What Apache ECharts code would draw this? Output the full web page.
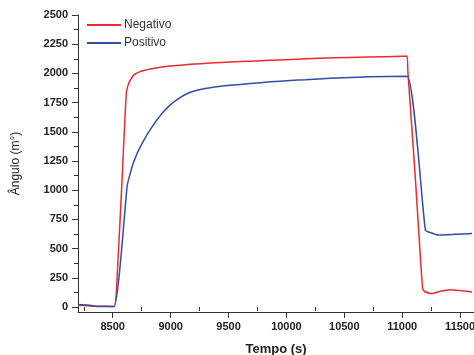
<!DOCTYPE html>
<html>
<head>
<meta charset="utf-8">
<script src="https://cdn.jsdelivr.net/npm/echarts@6/dist/echarts.min.js"></script>
<style>
  html, body { margin: 0; padding: 0; background: #fff; }
  #chart { width: 474px; height: 355px; }
</style>
</head>
<body>
<div id="chart"></div>
<script>
// Angle response over time: [time (s), angle (m°)]
const negativo = [
  [8200, 15], [8290, 10], [8360, 6], [8512, 5], [8540, 300], [8580, 1080],
  [8617, 1830], [8640, 1920], [8680, 1985], [8750, 2020], [8825, 2038],
  [8911, 2052], [8997, 2063], [9170, 2078], [9343, 2088], [9516, 2097],
  [9688, 2105], [9861, 2112], [10034, 2119], [10166, 2125], [10400, 2133],
  [10700, 2140], [11000, 2146], [11042, 2148], [11048, 2030], [11113, 1110],
  [11176, 158], [11200, 128], [11257, 115], [11330, 135], [11415, 148],
  [11500, 140], [11603, 129]
];
const positivo = [
  [8200, 22], [8290, 16], [8360, 5], [8512, 5], [8625, 1040], [8650, 1140],
  [8680, 1240], [8720, 1335], [8767, 1425], [8825, 1520], [8911, 1640],
  [8997, 1730], [9084, 1795], [9170, 1838], [9256, 1862], [9343, 1878],
  [9516, 1898], [9688, 1913], [9861, 1928], [10034, 1939], [10163, 1946],
  [10380, 1959], [10726, 1971], [11042, 1976], [11200, 659], [11250, 635],
  [11312, 616], [11450, 622], [11603, 630]
];
const seriesNames = ['Negativo', 'Positivo'];

// Tick positions
const xTicks = [8500, 9000, 9500, 10000, 10500, 11000, 11500];
const xMinorTicks = [8250, 8750, 9250, 9750, 10250, 10750, 11250];
const yTicks = [0, 250, 500, 750, 1000, 1250, 1500, 1750, 2000, 2250, 2500];
const yMinorTicks = [125, 375, 625, 875, 1125, 1375, 1625, 1875, 2125, 2375];

const X_MIN = 8200, X_MAX = 11620, Y_MIN = -43, Y_MAX = 2500;
const axisColor = '#333';
const FONT = 'Liberation Sans, Arial, sans-serif';
const labelFont = { fontFamily: FONT, fontWeight: 'bold', fontSize: 11, color: '#222' };
const plain = v => String(v);

const chart = echarts.init(document.getElementById('chart'), null, { renderer: 'canvas' });
chart.setOption({
  animation: false,
  backgroundColor: '#fff',
  grid: { left: 78, right: 0, top: 15, bottom: 43, containLabel: false, outerBoundsMode: 'none' },
  legend: {
    orient: 'vertical',
    left: 82, top: 14,
    itemWidth: 34, itemHeight: 12, itemGap: 6,
    icon: 'path://M0,5 L34,5 L34,7 L0,7 Z',
    textStyle: { fontFamily: FONT, fontSize: 12, color: '#333', padding: [0, 0, 0, -2] },
    data: seriesNames
  },
  xAxis: [
    {
      type: 'value', min: X_MIN, max: X_MAX,
      name: 'Tempo (s)', nameLocation: 'middle', nameGap: 31,
      nameTextStyle: { fontFamily: FONT, fontWeight: 'bold', fontSize: 13, color: '#222' },
      axisLine: { show: true, onZero: false, lineStyle: { color: axisColor, width: 1 } },
      axisTick: { show: true, length: 6, customValues: xTicks, lineStyle: { color: axisColor } },
      axisLabel: Object.assign({ margin: 9, customValues: xTicks, formatter: plain }, labelFont),
      splitLine: { show: false }
    },
    {
      type: 'value', min: X_MIN, max: X_MAX, position: 'bottom',
      axisLine: { show: false },
      axisTick: { show: true, length: 4, customValues: xMinorTicks, lineStyle: { color: axisColor } },
      axisLabel: { show: false },
      splitLine: { show: false }
    }
  ],
  yAxis: [
    {
      type: 'value', min: Y_MIN, max: Y_MAX,
      name: 'Ângulo (m°)', nameLocation: 'middle', nameGap: 56,
      nameTextStyle: { fontFamily: FONT, fontSize: 12, color: '#222' },
      axisLine: { show: true, onZero: false, lineStyle: { color: axisColor, width: 1 } },
      axisTick: { show: true, length: 6, customValues: yTicks, lineStyle: { color: axisColor } },
      axisLabel: Object.assign({ margin: 10, customValues: yTicks, formatter: plain }, labelFont),
      splitLine: { show: false }
    },
    {
      type: 'value', min: Y_MIN, max: Y_MAX, position: 'left',
      axisLine: { show: false },
      axisTick: { show: true, length: 4, customValues: yMinorTicks, lineStyle: { color: axisColor } },
      axisLabel: { show: false },
      splitLine: { show: false }
    }
  ],
  series: [
    {
      name: seriesNames[0], type: 'line', data: negativo,
      symbol: 'none', smooth: 0.15,
      lineStyle: { color: '#ee2a2f', width: 1.5 }, itemStyle: { color: '#ee2a2f' },
      z: 3
    },
    {
      name: seriesNames[1], type: 'line', data: positivo,
      symbol: 'none', smooth: 0.15,
      lineStyle: { color: '#2f4fa6', width: 1.5 }, itemStyle: { color: '#2f4fa6' },
      z: 4
    }
  ]
});
</script>
</body>
</html>
